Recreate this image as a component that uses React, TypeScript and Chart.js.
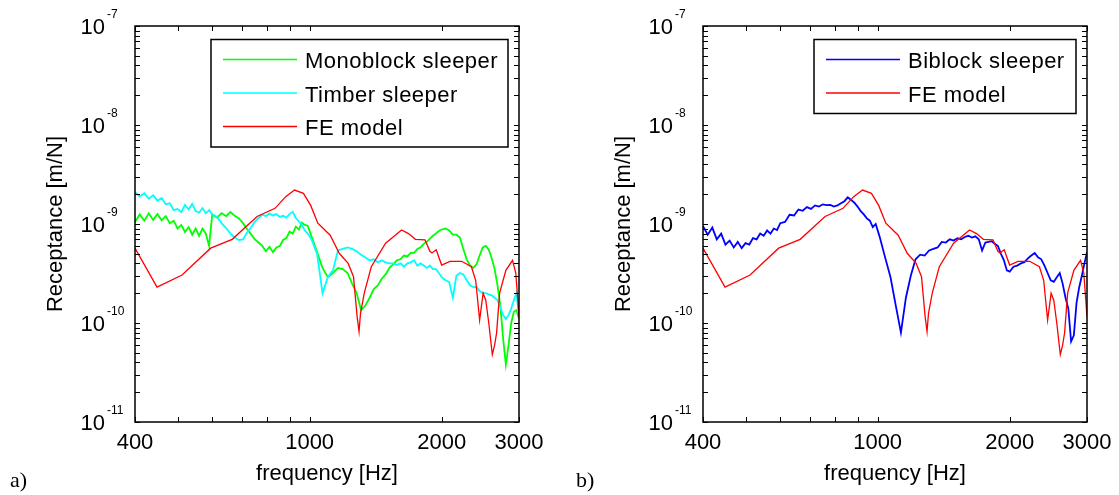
import React, { useEffect, useRef } from 'react';
import { Chart, registerables } from 'chart.js';

Chart.register(...registerables);

// Receptance values below are in units of 1e-10 m/N
const UNIT = 1e-10;

// Measurement frequency grid (Hz)
const measuredFreq = [
  400, 410, 420, 430, 440, 450, 460, 470, 480, 490, 500, 510, 520, 530, 540, 550, 560, 570, 580, 590, 600,
  615, 630, 645, 660, 675, 690, 705, 720, 735, 750, 765, 780, 795, 810, 825, 840, 855, 870, 885, 900, 915, 930, 945, 960, 975, 990,
  1010, 1040, 1070, 1100, 1130, 1160, 1190, 1220, 1250, 1280, 1310, 1340, 1370, 1400, 1430, 1460, 1490, 1520, 1550, 1580, 1610, 1640, 1670, 1700, 1730, 1760, 1790, 1820, 1850, 1880, 1910, 1940, 1970, 2000,
  2040, 2080, 2120, 2160, 2200, 2240, 2280, 2320, 2360, 2400, 2440, 2480, 2520, 2560, 2600, 2640, 2680, 2720, 2760, 2800, 2840, 2880, 2920, 2960, 3000,
];

const monoblockSleeper = [
  10.5, 12.5, 10.8, 12.8, 11.0, 12.6, 10.9, 12.0, 10.2, 10.8, 9.0, 9.8, 8.3, 9.3, 7.8, 9.0, 7.6, 9.0, 8.0, 6.0, 12.5,
  11.6, 12.9, 12.0, 13.2, 12.1, 11.4, 10.2, 8.9, 7.9, 7.0, 6.5, 6.0, 5.3, 5.9, 5.2, 5.8, 6.0, 6.9, 7.2, 8.4, 8.0, 9.4, 8.8, 10.3, 9.8, 9.6,
  7.5, 5.2, 3.6, 2.9, 3.2, 3.6, 3.5, 3.2, 2.5, 2.0, 1.35, 1.5, 1.8, 2.2, 2.4, 2.8, 3.1, 3.6, 3.9, 4.3, 4.4, 4.8, 4.7, 5.1, 5.1, 5.6, 5.8, 6.3, 6.6, 7.1, 7.6, 8.0, 8.5, 8.8,
  9.0, 8.6, 7.8, 7.8, 7.3, 5.6, 4.4, 3.8, 3.6, 3.9, 4.8, 5.8, 6.0, 5.5, 4.5, 3.5, 2.4, 1.5, 0.7, 0.38, 0.6, 1.0, 1.3, 1.35, 1.1,
];

const timberSleeper = [
  21, 19, 20.5, 18, 19.5, 17.2, 18.3, 15.8, 16.2, 13.8, 14.2, 13.2, 15.6, 14.0, 16.0, 13.5, 13.0, 14.5, 12.8, 13.8, 12.5,
  11.8, 10.2, 9.1, 8.0, 7.3, 6.9, 7.0, 8.2, 9.2, 10.5, 11.5, 12.4, 12.0, 12.8, 12.2, 12.6, 11.8, 12.1, 11.6, 12.6, 13.3, 11.5, 10.6, 9.8, 8.6, 8.0,
  7.0, 5.0, 2.0, 2.9, 3.4, 5.4, 5.6, 5.8, 5.6, 5.3, 4.9, 4.6, 4.3, 4.4, 4.1, 4.3, 4.1, 4.0, 4.0, 3.85, 4.0, 3.7, 4.0, 4.1, 4.3, 3.8, 4.0, 3.8, 3.6, 3.8, 3.5, 3.5, 3.2, 2.9,
  2.7, 2.6, 1.8, 3.0, 3.2, 3.1, 2.7, 2.4, 2.3, 2.3, 2.1, 2.0, 2.0, 1.95, 1.9, 1.8, 1.7, 1.45, 1.2, 1.1, 1.2, 1.4, 1.7, 2.0, 1.2,
];

const biblockSleeper = [
  9.5, 7.8, 9.2, 7.0, 8.0, 6.2, 6.8, 5.8, 6.6, 5.7, 6.4, 6.2, 7.2, 7.0, 8.0, 7.6, 8.6, 8.0, 9.0, 8.7, 10.2,
  10.5, 12.4, 12.2, 14.0, 13.6, 14.8, 14.2, 15.4, 15.0, 15.8, 15.5, 15.6, 15.0, 15.4, 16.2, 17.0, 18.6, 17.5, 16.4, 15.0, 13.5, 12.5, 11.4, 10.8, 9.3, 10.0,
  7.5, 4.6, 2.9, 1.5, 0.8, 1.8, 3.0, 4.4, 4.9, 4.8, 5.4, 5.6, 5.8, 6.6, 6.5, 7.0, 6.8, 7.2, 7.0, 7.4, 7.6, 7.3, 7.5, 7.0, 5.4, 6.5, 6.6, 6.7, 6.3, 6.0, 5.0, 4.3, 3.4, 3.3,
  3.7, 3.8, 4.0, 4.1, 4.5, 4.8, 5.1, 4.6, 4.4, 3.8, 3.2, 2.7, 2.6, 2.9, 3.2, 2.5, 1.8, 1.4, 0.65, 0.75, 1.6, 2.3, 3.0, 4.0, 5.2,
];

// FE model curve
const feFreq = [
  400, 449, 512, 595, 666, 759, 834, 882, 924, 968, 1005, 1044, 1114, 1168, 1224, 1259, 1283, 1296, 1306, 1332, 1382, 1490, 1620,
  1680, 1742, 1832, 1880, 1900, 1943, 1999, 2088, 2221, 2337, 2390, 2440, 2485, 2520, 2560, 2608, 2640, 2667, 2710, 2800, 2900, 2950, 3000,
];
const feModel = [
  5.7, 2.3, 3.05, 5.7, 7.0, 11.9, 14.4, 18.9, 22, 20.4, 15.5, 10.2, 7.7, 5.06, 4.0, 2.94, 1.16, 0.82, 1.25, 2.0, 3.7, 6.4, 8.7,
  8.0, 7.0, 6.9, 5.3, 5.1, 5.5, 3.85, 4.2, 4.2, 3.7, 2.7, 1.07, 2.0, 1.7, 1.0, 0.48, 0.6, 0.79, 2.0, 3.4, 4.3, 3.2, 1.16,
];

const xTickValues = [400, 1000, 2000, 3000];
const xTickLabels = ['400', '1000', '2000', '3000'];
const xMinorValues = [500, 600, 700, 800, 900];
const yDecadeExponents = [-11, -10, -9, -8, -7];
const yMinorMultipliers = [2, 3, 4, 5, 6, 7, 8, 9];

const SANS = '"Liberation Sans", Arial, Helvetica, sans-serif';
const SERIF = '"Liberation Serif", "Times New Roman", serif';
const TICK = 5;

type Series = { label: string; freq: number[]; values: number[]; color: string; order: number; width: number };
type PanelCfg = {
  width: number;
  height: number;
  padding: { left: number; right: number; top: number; bottom: number };
  series: Series[];
  legendWidth: number;
  panelLabel: string;
  panelLabelX: number;
};

const panelA: PanelCfg = {
  width: 560,
  height: 495,
  padding: { left: 135, right: 41, top: 26, bottom: 73 },
  series: [
    { label: 'Monoblock sleeper', freq: measuredFreq, values: monoblockSleeper, color: '#00ff00', order: 2, width: 1.8 },
    { label: 'Timber sleeper', freq: measuredFreq, values: timberSleeper, color: '#00ffff', order: 1, width: 1.8 },
    { label: 'FE model', freq: feFreq, values: feModel, color: '#ff0000', order: 0, width: 1.3 },
  ],
  legendWidth: 297,
  panelLabel: 'a)',
  panelLabelX: 10,
};

const panelB: PanelCfg = {
  width: 559,
  height: 495,
  padding: { left: 143, right: 32, top: 26, bottom: 73 },
  series: [
    { label: 'Biblock sleeper', freq: measuredFreq, values: biblockSleeper, color: '#0000ff', order: 1, width: 1.8 },
    { label: 'FE model', freq: feFreq, values: feModel, color: '#ff0000', order: 0, width: 1.3 },
  ],
  legendWidth: 262,
  panelLabel: 'b)',
  panelLabelX: 16,
};

function makeFramePlugin(cfg: PanelCfg) {
  return {
    id: 'matlabFrame',
    afterDraw(chart: any) {
      const ctx: CanvasRenderingContext2D = chart.ctx;
      const { left, right, top, bottom } = chart.chartArea;
      const xs = chart.scales.x;
      const ys = chart.scales.y;
      ctx.save();

      // tick marks (inward, all four sides)
      ctx.strokeStyle = '#000';
      ctx.lineWidth = 1;
      ctx.beginPath();
      for (const f of [...xMinorValues, ...xTickValues]) {
        const px = Math.round(xs.getPixelForValue(f)) + 0.5;
        ctx.moveTo(px, bottom);
        ctx.lineTo(px, bottom - TICK);
        ctx.moveTo(px, top);
        ctx.lineTo(px, top + TICK);
      }
      for (const e of yDecadeExponents) {
        const mults = e === -7 ? [1] : [1, ...yMinorMultipliers];
        for (const m of mults) {
          const py = Math.round(ys.getPixelForValue(m * Math.pow(10, e))) + 0.5;
          ctx.moveTo(left, py);
          ctx.lineTo(left + TICK, py);
          ctx.moveTo(right, py);
          ctx.lineTo(right - TICK, py);
        }
      }
      ctx.stroke();

      // axes box
      ctx.lineWidth = 1.5;
      ctx.strokeRect(left, top, right - left, bottom - top);

      // x tick labels
      ctx.fillStyle = '#000';
      ctx.font = `22px ${SANS}`;
      ctx.textAlign = 'center';
      ctx.textBaseline = 'alphabetic';
      xTickValues.forEach((v, i) => {
        ctx.fillText(xTickLabels[i], xs.getPixelForValue(v), bottom + 27);
      });
      ctx.fillText('frequency [Hz]', (left + right) / 2, bottom + 58);

      // y tick labels 10^e
      for (const e of yDecadeExponents) {
        const py = ys.getPixelForValue(Math.pow(10, e));
        ctx.font = `22px ${SANS}`;
        ctx.textAlign = 'right';
        ctx.fillText('10', left - 30, py + 7.5);
        ctx.font = `12px ${SANS}`;
        ctx.textAlign = 'left';
        ctx.fillText(String(e), left - 28, py - 7.7);
      }

      // y title
      ctx.save();
      ctx.translate(left - 73, (top + bottom) / 2);
      ctx.rotate(-Math.PI / 2);
      ctx.textAlign = 'center';
      ctx.font = `22px ${SANS}`;
      ctx.fillText('Receptance [m/N]', 0, 0);
      ctx.restore();

      // legend
      const lw = cfg.legendWidth;
      const lx = right - 11 - lw;
      const ly = top + 13.5;
      const n = cfg.series.length;
      const lh = 20 + (n - 1) * 33.5 + 20.5;
      ctx.fillStyle = '#fff';
      ctx.fillRect(lx, ly, lw, lh);
      ctx.strokeStyle = '#000';
      ctx.lineWidth = 1.5;
      ctx.strokeRect(lx, ly, lw, lh);
      cfg.series.forEach((s, i) => {
        const ry = ly + 20 + i * 33.5;
        ctx.strokeStyle = s.color;
        ctx.lineWidth = 1.5;
        ctx.beginPath();
        ctx.moveTo(lx + 12, ry);
        ctx.lineTo(lx + 86, ry);
        ctx.stroke();
        ctx.fillStyle = '#000';
        ctx.font = `22px ${SANS}`;
        (ctx as any).letterSpacing = '0.5px';
        ctx.textAlign = 'left';
        ctx.fillText(s.label, lx + 94, ry + 8.5);
        (ctx as any).letterSpacing = '0px';
      });

      // panel label
      ctx.fillStyle = '#000';
      ctx.font = `22px ${SERIF}`;
      ctx.textAlign = 'left';
      ctx.fillText(cfg.panelLabel, cfg.panelLabelX, 487);

      ctx.restore();
    },
  };
}

function Panel({ cfg, left }: { cfg: PanelCfg; left: number }) {
  const ref = useRef<HTMLCanvasElement>(null);
  useEffect(() => {
    if (!ref.current) return;
    const chart = new Chart(ref.current, {
      type: 'line',
      data: {
        datasets: cfg.series.map((s) => ({
          label: s.label,
          data: s.freq.map((f, i) => ({ x: f, y: s.values[i] * UNIT })),
          borderColor: s.color,
          backgroundColor: s.color,
          borderWidth: s.width,
          borderJoinStyle: 'miter',
          pointRadius: 0,
          tension: 0,
          fill: false,
          order: s.order,
        })),
      },
      options: {
        animation: false,
        responsive: false,
        maintainAspectRatio: false,
        devicePixelRatio: 1,
        layout: { padding: cfg.padding },
        plugins: { legend: { display: false }, tooltip: { enabled: false } },
        events: [],
        scales: {
          x: {
            type: 'logarithmic',
            min: 400,
            max: 3000,
            grid: { display: false },
            border: { display: false },
            ticks: { display: false },
            afterFit: (scale: any) => {
              scale.height = 0;
            },
          },
          y: {
            type: 'logarithmic',
            min: 1e-11,
            max: 1e-7,
            grid: { display: false },
            border: { display: false },
            ticks: { display: false },
            afterFit: (scale: any) => {
              scale.width = 0;
            },
          },
        },
      } as any,
      plugins: [makeFramePlugin(cfg)],
    });
    return () => chart.destroy();
  }, [cfg]);
  return (
    <canvas
      ref={ref}
      width={cfg.width}
      height={cfg.height}
      style={{ position: 'absolute', left, top: 0, width: cfg.width, height: cfg.height }}
    />
  );
}

export default function App() {
  return (
    <div style={{ position: 'absolute', left: 0, top: 0, width: 1119, height: 495, background: '#fff', overflow: 'hidden' }}>
      <Panel cfg={panelA} left={0} />
      <Panel cfg={panelB} left={560} />
    </div>
  );
}
